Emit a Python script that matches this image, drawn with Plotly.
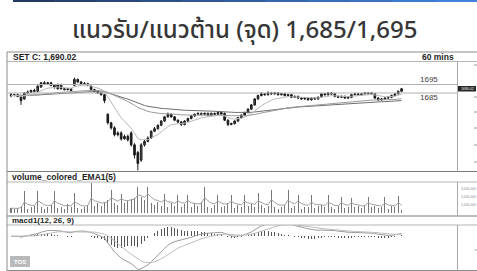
import plotly.graph_objects as go
import pandas as pd

# ---------------- data ----------------
title_text = "แนวรับ/แนวต้าน (จุด) 1,685/1,695"
symbol_label = "SET C: 1,690.02"
timeframe_label = "60 mins"
volume_label = "volume_colored_EMA1(5)"
macd_label = "macd1(12, 26, 9)"
resistance_level = 1695
support_level = 1685
last_price_label = "1690.02"

opens = [1683, 1682, 1683, 1681, 1678, 1685, 1686, 1688, 1687, 1692,
         1697, 1696, 1697, 1694, 1690, 1695, 1690, 1689, 1690, 1694,
         1701, 1698, 1696, 1696, 1693, 1689, 1687, 1685, 1683, 1660,
         1650, 1644, 1636, 1638, 1631, 1634, 1638, 1624, 1615, 1606,
         1624, 1628, 1632, 1640, 1643, 1647, 1652, 1657, 1660, 1657,
         1653, 1651, 1648, 1652, 1655, 1658, 1660, 1661, 1660, 1661,
         1659, 1661, 1660, 1662, 1661, 1653, 1648, 1649, 1652, 1656,
         1659, 1662, 1666, 1671, 1678, 1682, 1684, 1683, 1685, 1684,
         1685, 1683, 1684, 1682, 1683, 1680, 1681, 1679, 1678, 1679,
         1677, 1679, 1678, 1681, 1684, 1683, 1685, 1684, 1681, 1680,
         1681, 1679, 1680, 1683, 1684, 1683, 1684, 1685, 1684, 1684,
         1679, 1677, 1678, 1679, 1680, 1682, 1684, 1687]
highs = [1685, 1684, 1684, 1682, 1686, 1688, 1689, 1690, 1694, 1698,
         1699, 1698, 1698, 1695, 1696, 1696, 1691, 1691, 1691, 1703,
         1702, 1699, 1698, 1697, 1694, 1690, 1688, 1686, 1684, 1661,
         1651, 1646, 1640, 1640, 1636, 1636, 1640, 1626, 1617, 1626,
         1630, 1634, 1641, 1645, 1648, 1653, 1658, 1662, 1661, 1658,
         1654, 1652, 1653, 1656, 1659, 1661, 1662, 1662, 1662, 1662,
         1662, 1662, 1663, 1663, 1662, 1654, 1650, 1653, 1657, 1660,
         1663, 1667, 1672, 1679, 1683, 1686, 1685, 1687, 1686, 1686,
         1686, 1685, 1685, 1684, 1684, 1682, 1682, 1680, 1680, 1680,
         1680, 1680, 1681, 1685, 1685, 1686, 1686, 1685, 1682, 1682,
         1682, 1681, 1684, 1685, 1685, 1685, 1686, 1686, 1686, 1685,
         1680, 1679, 1680, 1681, 1683, 1685, 1688, 1691]
lows = [1680, 1681, 1680, 1671, 1677, 1684, 1685, 1686, 1686, 1691,
        1695, 1695, 1693, 1690, 1689, 1689, 1688, 1688, 1687, 1693,
        1697, 1695, 1694, 1693, 1688, 1686, 1684, 1682, 1673, 1648,
        1642, 1634, 1634, 1629, 1630, 1628, 1622, 1608, 1594, 1604,
        1622, 1627, 1631, 1639, 1642, 1646, 1651, 1656, 1656, 1652,
        1649, 1646, 1647, 1651, 1654, 1657, 1659, 1659, 1659, 1658,
        1658, 1659, 1659, 1659, 1652, 1646, 1647, 1648, 1651, 1655,
        1658, 1661, 1665, 1670, 1677, 1681, 1682, 1682, 1683, 1683,
        1682, 1682, 1681, 1681, 1679, 1679, 1678, 1677, 1677, 1676,
        1676, 1677, 1677, 1680, 1682, 1682, 1683, 1680, 1679, 1679,
        1678, 1678, 1679, 1682, 1682, 1682, 1683, 1683, 1683, 1678,
        1676, 1676, 1677, 1678, 1679, 1681, 1683, 1686]
closes = [1682, 1683, 1681, 1676, 1685, 1686, 1688, 1687, 1693, 1697,
          1696, 1697, 1694, 1692, 1695, 1690, 1689, 1690, 1688, 1701,
          1698, 1696, 1696, 1694, 1689, 1687, 1685, 1683, 1676, 1650,
          1644, 1636, 1638, 1631, 1634, 1630, 1624, 1612, 1602, 1624,
          1628, 1632, 1640, 1643, 1647, 1652, 1657, 1660, 1657, 1653,
          1651, 1648, 1652, 1655, 1658, 1660, 1661, 1660, 1661, 1659,
          1661, 1660, 1662, 1660, 1653, 1648, 1649, 1652, 1656, 1659,
          1662, 1666, 1671, 1678, 1682, 1684, 1683, 1685, 1684, 1685,
          1683, 1684, 1682, 1683, 1680, 1681, 1679, 1678, 1679, 1677,
          1679, 1678, 1680, 1684, 1683, 1685, 1684, 1681, 1680, 1681,
          1679, 1680, 1683, 1684, 1683, 1684, 1685, 1684, 1685, 1679,
          1677, 1678, 1679, 1680, 1682, 1684, 1687, 1690.02]
volumes_m = [0.6, 0.5, 0.6, 0.9, 2.75, 0.5, 0.7, 0.9, 2.7, 0.8,
             0.5, 0.7, 1.0, 2.75, 0.6, 0.8, 0.5, 1.1, 0.7, 2.5,
             0.6, 0.5, 0.8, 1.0, 3.7, 0.9, 1.2, 0.9, 1.4, 1.6,
             2.9, 1.3, 1.0, 2.4, 1.2, 1.5, 1.8, 1.9, 3.3, 2.0,
             1.6, 3.2, 1.2, 1.0, 1.4, 0.9, 2.4, 0.8, 1.3, 0.9,
             2.2, 0.8, 1.1, 2.2, 0.7, 1.2, 0.9, 1.4, 3.3, 0.8,
             0.6, 1.0, 2.2, 0.7, 0.9, 1.2, 2.2, 0.6, 1.0, 0.8,
             2.3, 0.9, 1.1, 0.8, 2.5, 1.0, 0.6, 0.9, 2.9, 0.7,
             0.5, 0.8, 1.0, 2.9, 0.6, 0.9, 2.2, 0.5, 0.8, 0.7,
             2.2, 0.6, 0.9, 1.0, 0.7, 2.2, 0.8, 0.5, 0.9, 2.0,
             0.6, 0.8, 1.85, 0.7, 0.9, 0.6, 1.0, 2.0, 0.7, 0.9,
             0.6, 0.8, 2.0, 0.5, 0.9, 0.7, 2.1, 0.4]
volume_tick_values = [1_000_000, 2_000_000, 3_000_000]
volume_tick_labels = ["1,000,000", "2,000,000", "3,000,000"]

# ---------------- indicators (computed from the data) ----------------
bars = list(range(len(closes)))
cs = pd.Series(closes)
ema_fast = cs.ewm(span=10, adjust=False).mean()
ema_mid = cs.ewm(span=50, adjust=False).mean()
ema_slow = cs.ewm(span=75, adjust=False).mean()
vol = pd.Series(volumes_m) * 1e6
vol_ema = vol.ewm(span=5, adjust=False).mean()
macd = cs.ewm(span=12, adjust=False).mean() - cs.ewm(span=26, adjust=False).mean()
signal = macd.ewm(span=9, adjust=False).mean()
hist = macd - signal

# ---------------- layout helpers (pixels -> paper) ----------------
W, H = 477, 271
def px(x):
    return x / W
def py(y):
    return 1 - y / H

n = len(closes)
spacing = (402 - 11) / (n - 1)
x_range = [-(11 - 7) / spacing, (n - 1) + (458 - 402) / spacing]
x_dom = [px(7), px(457.5)]

# price scale: 1695 at y=84.5, 0.85 px/pt
def price_at(ypix):
    return resistance_level - (ypix - 84.5) / 0.85
price_range = [price_at(171), price_at(62)]

# volume scale: 0 at y=213, 8 px per million
vol_range = [-(216 - 213) / 8 * 1e6, (213 - 182) / 8 * 1e6]

mmin = float(macd.min())
macd_range = [mmin * 34.5 / 34, -mmin * 11.5 / 34]

fig = go.Figure()
fig.add_trace(go.Candlestick(
    x=bars, open=opens, high=highs, low=lows, close=closes,
    increasing=dict(line=dict(color="#1a1a1a", width=1), fillcolor="#5a5a5a"),
    decreasing=dict(line=dict(color="#1a1a1a", width=1), fillcolor="#1a1a1a"),
    whiskerwidth=0, xaxis="x", yaxis="y", showlegend=False, hoverinfo="skip"))
for series, col in [(ema_slow, "#6e6e6e"), (ema_mid, "#9a9a9a"), (ema_fast, "#b9b9b9")]:
    fig.add_trace(go.Scatter(x=bars, y=series, mode="lines", line=dict(color=col, width=1),
                             xaxis="x", yaxis="y", showlegend=False, hoverinfo="skip"))

fig.add_trace(go.Bar(x=bars, y=vol, width=0.3, marker=dict(color="#777777", line=dict(width=0)),
                     xaxis="x2", yaxis="y2", showlegend=False, hoverinfo="skip"))
fig.add_trace(go.Scatter(x=bars, y=vol_ema, mode="lines", line=dict(color="#a0a0a0", width=1),
                         xaxis="x2", yaxis="y2", showlegend=False, hoverinfo="skip"))

fig.add_trace(go.Bar(x=bars, y=hist, width=0.3, marker=dict(color="#555555", line=dict(width=0)),
                     xaxis="x3", yaxis="y3", showlegend=False, hoverinfo="skip"))
fig.add_trace(go.Scatter(x=bars, y=macd, mode="lines", line=dict(color="#9a9a9a", width=1),
                         xaxis="x3", yaxis="y3", showlegend=False, hoverinfo="skip"))
fig.add_trace(go.Scatter(x=bars, y=signal, mode="lines", line=dict(color="#bdbdbd", width=1),
                         xaxis="x3", yaxis="y3", showlegend=False, hoverinfo="skip"))

ax_common = dict(visible=False, showgrid=False, zeroline=False, fixedrange=True)
fig.update_layout(
    width=W, height=H, margin=dict(l=0, r=0, t=0, b=0),
    paper_bgcolor="white", plot_bgcolor="white", bargap=0, hovermode=False,
    xaxis=dict(domain=x_dom, range=x_range, anchor="y", rangeslider=dict(visible=False), **ax_common),
    yaxis=dict(domain=[py(171), py(62)], range=price_range, anchor="x", **ax_common),
    xaxis2=dict(domain=x_dom, range=x_range, anchor="y2", matches="x", **ax_common),
    yaxis2=dict(domain=[py(216), py(182)], range=vol_range, anchor="x2", **ax_common),
    xaxis3=dict(domain=x_dom, range=x_range, anchor="y3", matches="x", **ax_common),
    yaxis3=dict(domain=[py(270), py(225)], range=macd_range, anchor="x3", **ax_common),
)

shapes = []
def hline(y, x0, x1, color, width=1):
    shapes.append(dict(type="line", xref="paper", yref="paper", x0=px(x0), x1=px(x1),
                       y0=py(y), y1=py(y), line=dict(color=color, width=width)))
def vline(x, y0, y1, color, width=1):
    shapes.append(dict(type="line", xref="paper", yref="paper", x0=px(x), x1=px(x),
                       y0=py(y0), y1=py(y1), line=dict(color=color, width=width)))

# top blue gradient rule
grad = ["#243a63", "#27416f", "#2a487b", "#2d4f87", "#305793", "#335e9f", "#3666ab", "#396db7",
        "#3c75c3", "#3f7ccf", "#4283d9"]
seg = (477 - 13) / len(grad)
for k, c in enumerate(grad):
    shapes.append(dict(type="line", xref="paper", yref="paper", x0=px(13 + k * seg), x1=px(13 + (k + 1) * seg + 0.5),
                       y0=py(0.9), y1=py(0.9), line=dict(color=c, width=2)))

# frame
hline(52, 7, 477, "#8a8a8a")
hline(61.5, 7, 477, "#b5b5b5")
hline(171.5, 7, 477, "#7a7a7a")
hline(182, 7, 477, "#b5b5b5")
hline(216, 7, 477, "#7a7a7a")
hline(225, 7, 477, "#b5b5b5")
hline(270.5, 7, 477, "#8a8a8a")
vline(7, 52, 271, "#8a8a8a")
vline(457.5, 61.5, 171.5, "#a8a8a8")
vline(457.5, 182, 216, "#a8a8a8")
vline(457.5, 225, 271, "#a8a8a8")

# support / resistance lines
for lvl in (resistance_level, support_level):
    shapes.append(dict(type="line", xref="paper", yref="y", x0=px(7), x1=px(457.5),
                       y0=lvl, y1=lvl, line=dict(color="#b0b0b0", width=1)))

# right-axis label fragments (cut off at the edge)
for yy in (65, 97, 112, 128, 145, 162):
    hline(yy, 474, 477, "#9a9a9a")
hline(250, 474.5, 477, "#9a9a9a")

# last-price box
shapes.append(dict(type="rect", xref="paper", yref="paper", x0=px(458), x1=px(476),
                   y0=py(91.5), y1=py(86), fillcolor="#262626", line=dict(width=0)))
# logo box
shapes.append(dict(type="rect", xref="paper", yref="paper", x0=px(10), x1=px(30),
                   y0=py(267), y1=py(256), fillcolor="#b9b9b9", line=dict(width=0)))
fig.update_layout(shapes=shapes)

ann = []
def text(x, y, s, size, color="#1f1f1f", xanchor="left", bold=False,
         family="Liberation Sans, Arial, sans-serif", weight=None):
    f = dict(size=size, color=color, family=family)
    if weight is not None:
        f["weight"] = weight
    ann.append(dict(xref="paper", yref="paper", x=px(x), y=py(y), text=("<b>%s</b>" % s) if bold else s,
                    showarrow=False, xanchor=xanchor, yanchor="middle", font=f))

text(245, 31, title_text, 24, color="#363636", xanchor="center",
     family="Noto Sans Thai, Noto Sans, DejaVu Sans, sans-serif", weight=500)
text(11, 57, symbol_label, 8.5, bold=True)
text(438, 57, timeframe_label, 8.5, xanchor="center", bold=True)
text(418, 79, str(resistance_level), 8, color="#404040")
text(418, 97.5, str(support_level), 8, color="#404040")
text(467, 88.8, last_price_label, 3.5, color="#ffffff", xanchor="center")
text(10, 177, volume_label, 8.5, bold=True)
text(10, 220.5, macd_label, 8, bold=True)
for v, lab in zip(volume_tick_values, volume_tick_labels):
    ann.append(dict(xref="paper", yref="y2", x=px(458.5), y=v, text=lab, showarrow=False,
                    xanchor="left", yanchor="middle", font=dict(size=3.4, color="#8a8a8a",
                    family="Liberation Sans, Arial, sans-serif")))
text(20, 261.5, "TOS", 6, color="#ffffff", xanchor="center", bold=True)
fig.update_layout(annotations=ann)

fig.write_html("out.html", config={"displayModeBar": False, "staticPlot": True},
               post_script="document.body.style.margin='0';document.body.style.overflow='hidden';")
